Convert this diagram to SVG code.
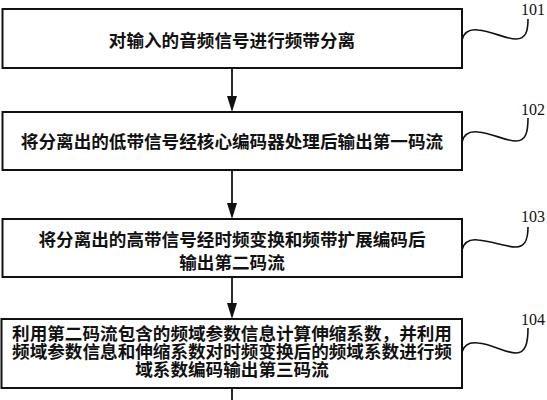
<svg xmlns="http://www.w3.org/2000/svg" width="547" height="400" viewBox="0 0 547 400">
<style>
.box{fill:#fff;stroke:#111;stroke-width:2}
.t{font-family:"Noto Sans CJK SC","Noto Sans CJK JP",sans-serif;font-weight:700;font-size:17.6px;fill:#111;text-anchor:middle;dominant-baseline:central}
.lbl{font-family:"Liberation Serif",serif;font-size:16px;fill:#111}
.ln{fill:none;stroke:#111;stroke-width:1.8}
.sq{fill:none;stroke:#111;stroke-width:1.6}
.ah{fill:#111}
</style>
<rect width="547" height="400" fill="#fff"/>
<g id="connectors">
<line class="ln" x1="232" y1="68" x2="232" y2="96"/>
<path class="ah" d="M227,96 L237,96 L232,112 Z"/>
<line class="ln" x1="232" y1="170" x2="232" y2="203"/>
<path class="ah" d="M227,203 L237,203 L232,219 Z"/>
<line class="ln" x1="232" y1="277" x2="232" y2="303"/>
<path class="ah" d="M227,303 L237,303 L232,319 Z"/>
<line class="ln" x1="232" y1="388" x2="232" y2="400"/>
<path class="sq" d="M462,40 C464,32 470,29 478,30 C492,31 505,39 516,39 C526,39 528,31 528,19"/>
<path class="sq" d="M462,142 C464,134 470,131 478,132 C492,133 505,141 516,141 C526,141 528,132 528,118"/>
<path class="sq" d="M462,250 C464,242 470,239 478,240 C492,241 505,247 516,247 C526,247 528,238 528,227"/>
<path class="sq" d="M462,352 C464,345 470,342 478,343 C492,344 505,353 516,353 C526,353 528,342 528,328"/>
</g>
<g id="n101">
<rect class="box" x="2.5" y="9" width="459.5" height="59"/>
<text class="t" x="232" y="39">对输入的音频信号进行频带分离</text>
<text class="lbl" x="521" y="15">101</text>
</g>
<g id="n102">
<rect class="box" x="2.5" y="112" width="459.5" height="58"/>
<text class="t" x="232" y="140.5">将分离出的低带信号经核心编码器处理后输出第一码流</text>
<text class="lbl" x="521" y="115">102</text>
</g>
<g id="n103">
<rect class="box" x="2.5" y="219" width="459.5" height="58"/>
<text class="t" x="232" y="238">将分离出的高带信号经时频变换和频带扩展编码后</text>
<text class="t" x="232" y="261">输出第二码流</text>
<text class="lbl" x="521" y="222">103</text>
</g>
<g id="n104">
<rect class="box" x="1.5" y="319" width="460.5" height="69"/>
<text class="t" x="232" y="332.5">利用第二码流包含的频域参数信息计算伸缩系数，并利用</text>
<text class="t" x="232" y="350.5">频域参数信息和伸缩系数对时频变换后的频域系数进行频</text>
<text class="t" x="232" y="368.5">域系数编码输出第三码流</text>
<text class="lbl" x="521" y="325">104</text>
</g>
</svg>
